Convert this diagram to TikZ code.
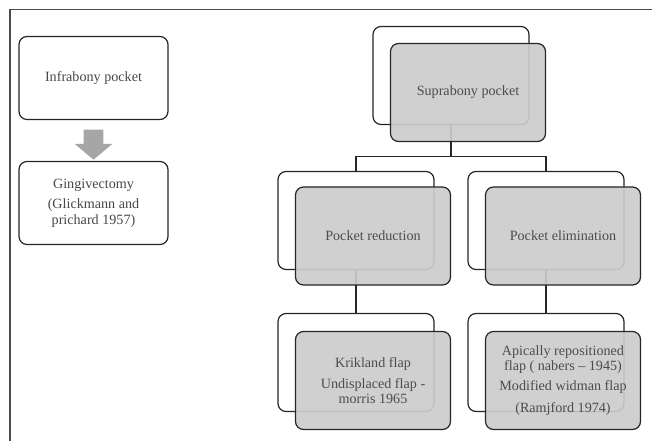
\documentclass[tikz,border=0pt]{standalone}
\usepackage{fontspec}
\setmainfont{Liberation Serif}
\usetikzlibrary{shapes.arrows,calc}

\tikzset{every picture/.style={line width=0.75pt}}
\tikzset{
  leftbox/.style={draw=black!85, line width=0.9pt, rounded corners=6pt, fill=white,
    minimum width=111.75pt, minimum height=62.25pt, align=center, text=black!72,
    font=\fontsize{10.6}{11.4}\selectfont},
  backbox/.style={draw=black!85, line width=0.9pt, rounded corners=6pt, fill=white,
    minimum width=117pt, minimum height=73.5pt},
  frontbox/.style={draw=black!85, line width=0.9pt, rounded corners=6pt,
    fill=black!20, fill opacity=0.92, text opacity=1,
    minimum width=116.25pt, minimum height=73.5pt, align=center, text=black!70,
    font=\fontsize{10.6}{11.4}\selectfont},
  link/.style={draw=black!85, line width=0.9pt},
  downarrow/.style={single arrow, fill=black!35, draw=none, rotate=-90,
    inner xsep=0pt, inner ysep=7.1pt, minimum height=22.5pt,
    single arrow head extend=6.75pt, single arrow tip angle=100}
}

\begin{document}
\begin{tikzpicture}[x=0.75pt,y=-0.75pt]
		\useasboundingbox (0,0) rectangle (652,441);
		
		%frame
		\draw [color=black!70, line width=1.1pt] (652,9.5) -- (10,9.5) -- (10,441) ;
		
		%left column
		\node [leftbox] (infra) at (93.5,78) {Infrabony pocket};
		\node [leftbox] (gingi) at (93.5,203) {Gingivectomy\\[4pt](Glickmann and\\prichard 1957)};
		\node [downarrow] (arr) at ($(infra.south)!0.5!(gingi.north)$) {};
		
		%back boxes
		\node [backbox] (supra) at (451,75.5) {};
		\node [backbox] (red) at (356,220.5) {};
		\node [backbox] (elim) at (546,220.5) {};
		\node [backbox] (krik) at (356,362.5) {};
		\node [backbox] (apic) at (546,362.5) {};
		
		%connectors
		\draw [link] (supra.south) -- ++(0,31.5) -| (red.north) ;
		\draw [link] (supra.south) -- ++(0,31.5) -| (elim.north) ;
		\draw [link] (red.south) -- (krik.north) ;
		\draw [link] (elim.south) -- (apic.north) ;
		
		%front boxes
		\node [frontbox] (supraF) at ([shift={(17,17)}]supra.center) {Suprabony pocket};
		\node [frontbox] (redF) at ([shift={(17,15.5)}]red.center) {Pocket reduction};
		\node [frontbox] (elimF) at ([shift={(17,15.5)}]elim.center) {Pocket elimination};
		\node [frontbox] (krikF) at ([shift={(17,18)}]krik.center) {Krikland flap\\[4pt]Undisplaced flap -\\morris 1965};
		\node [frontbox] (apicF) at ([shift={(17,18)}]apic.center) {Apically repositioned\\flap ( nabers -- 1945)\\[4pt]Modified widman flap\\[5pt](Ramjford 1974)};
		
\end{tikzpicture}
\end{document}
